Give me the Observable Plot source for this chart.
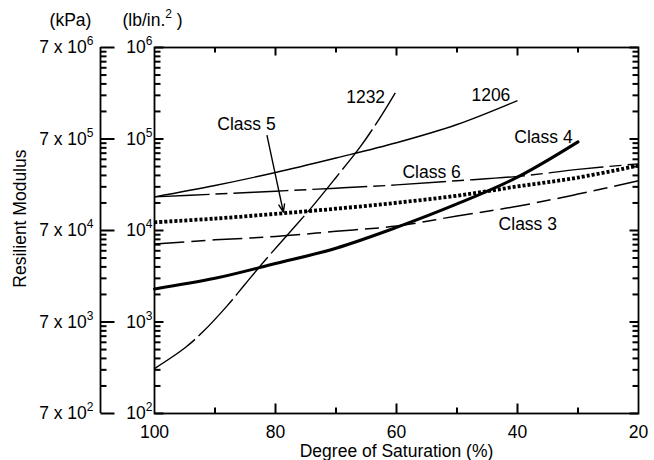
<!DOCTYPE html>
<html><head><meta charset="utf-8">
<script src="https://cdn.jsdelivr.net/npm/d3@7"></script>
<script src="https://cdn.jsdelivr.net/npm/@observablehq/plot@0.6"></script>
<style>body{margin:0;background:#fff;}</style>
</head><body><div id="chart"></div>
<script>
// ---- data ----
const sat = [100, 90, 80, 70, 60, 50, 40, 30, 20];
const class3 = [7100, 7900, 8600, 9800, 11200, 14400, 18400, 25000, 35000];
const class5 = [12300, 13500, 15200, 17300, 20100, 24000, 30300, 37900, 51300];
const class6 = [23300, 25000, 26900, 29000, 31500, 35000, 39000, 46500, 53500];
const sat4 = [100, 90, 80, 70, 60, 50, 40, 30];
const class4 = [2300, 3000, 4350, 6400, 10800, 19500, 38300, 93000];
const sat1206 = [100, 90, 80, 70, 60, 50, 40];
const m1206 = [23300, 31000, 43000, 62000, 91000, 144000, 263000];
const sat1232 = [100, 95, 92, 88, 85, 82, 78, 74, 70, 66, 63, 60.2];
const m1232 = [310, 520, 780, 1500, 2600, 4500, 9000, 18000, 38000, 82000, 160000, 320000];

const xTickLabels = [100, 80, 60, 40, 20];
const xMajorTicks = [80, 60, 40];
const xMinorTicks = [90, 70, 50, 30];
const yMajor = [1e2, 1e3, 1e4, 1e5, 1e6];
const yMinor = [2,3,4,5,6,7,8,9].flatMap(m => [1e2, 1e3, 1e4, 1e5].map(p => m * p));
const psiLabels = ["10^2", "10^3", "10^4", "10^5", "10^6"];
const kpaLabels = ["7 x 10^2", "7 x 10^3", "7 x 10^4", "7 x 10^5", "7 x 10^6"];

const noteText = ["1232", "1206", "Class 5", "Class 4", "Class 6", "Class 3"];
const noteX = [65.1, 44.4, 84.8, 35.7, 54.2, 38.3];
const noteY = [286000, 301000, 144000, 104000, 43400, 11800];
const arrowX = [81.4, 78.7];
const arrowY = [109000, 15850];

// ---- layout ----
const WIDTH = 654, HEIGHT = 460, ML = 154, MR = 16, MT = 47, MB = 47;
const FW = WIDTH - ML - MR, FH = HEIGHT - MT - MB;
const FS = 17.5;
const X0 = 100, X1 = 20, Y0 = 1e2, Y1 = 1e6;
const ux = px => px * (X0 - X1) / FW;
const fy = px => Math.pow(10, px * Math.log10(Y1 / Y0) / FH);

const rows = (xs, ys) => xs.map((x, i) => ({x, y: ys[i]}));
const tickRows = (vals, a, b) => vals.map(v => ({v, a, b}));
const lineOpts = {x: "x", y: "y", stroke: "black", curve: "catmull-rom", strokeLinecap: "butt"};
// ticks as horizontal / vertical links between two data points
const hTicks = (vals, xa, xb, extra = {}) => Plot.link(tickRows(vals, xa, xb), {x1: "a", x2: "b", y1: "v", y2: "v", stroke: "black", strokeWidth: 2, ...extra});
const vTicks = (vals, ya, yb) => Plot.link(tickRows(vals, ya, yb), {x1: "v", x2: "v", y1: "a", y2: "b", stroke: "black", strokeWidth: 2});

const chart = Plot.plot({
  width: WIDTH, height: HEIGHT,
  marginLeft: ML, marginRight: MR, marginTop: MT, marginBottom: MB,
  style: {fontFamily: "Liberation Sans, Arial, Helvetica, sans-serif", fontSize: FS + "px", background: "#fff", color: "#000", overflow: "visible"},
  x: {domain: [X0, X1], label: null},
  y: {type: "log", domain: [Y0, Y1], label: null},
  marks: [
    Plot.line(rows(sat1206, m1206), {...lineOpts, strokeWidth: 1.4}),
    Plot.line(rows(sat1232, m1232), {...lineOpts, strokeWidth: 1.4, strokeDasharray: "50,5"}),
    Plot.line(rows(sat, class6), {...lineOpts, strokeWidth: 1.4, strokeDasharray: "55,6,12,6"}),
    Plot.line(rows(sat, class3), {...lineOpts, strokeWidth: 1.5, strokeDasharray: "30,7,14,7"}),
    Plot.line(rows(sat, class5), {...lineOpts, strokeWidth: 3.8, strokeDasharray: "3,2"}),
    Plot.line(rows(sat4, class4), {...lineOpts, strokeWidth: 3, strokeLinecap: "round"}),
    Plot.text(noteText, {x: (d, i) => noteX[i], y: (d, i) => noteY[i], text: d => d, fontSize: FS, textAnchor: "middle", lineAnchor: "middle", fill: "black"}),
    Plot.arrow([0], {x1: () => arrowX[0], y1: () => arrowY[0], x2: () => arrowX[1], y2: () => arrowY[1], stroke: "black", strokeWidth: 1.4, headLength: 9, headAngle: 40}),
    Plot.frame({stroke: "black", strokeWidth: 1.8}),
    // ticks: left, right, bottom, top
    hTicks(yMinor, X0, X0 - ux(6)), hTicks(yMajor, X0, X0 - ux(9)),
    hTicks(yMinor, X1, X1 + ux(6)), hTicks(yMajor, X1, X1 + ux(9)),
    vTicks(xMinorTicks, Y0, Y0 * fy(6)), vTicks(xMajorTicks, Y0, Y0 * fy(10)),
    vTicks(xMinorTicks, Y1, Y1 / fy(5)), vTicks(xMajorTicks, Y1, Y1 / fy(8)),
    // outer kPa axis
    Plot.ruleX([X0], {y1: Y0, y2: Y1, dx: -54, stroke: "black", strokeWidth: 1.8}),
    hTicks(yMinor, X0, X0 - ux(6), {dx: -54}),
    hTicks(yMajor, X0, X0 - ux(14), {dx: -54}),
    Plot.axisX(xTickLabels, {tickSize: 0, tickPadding: 12, fontSize: FS, label: null, tickFormat: d => String(d)}),
    Plot.axisY(yMajor, {tickSize: 0, tickPadding: 2, fontSize: FS, label: null, tickFormat: d => psiLabels[yMajor.indexOf(d)]}),
    Plot.axisY(yMajor, {tickSize: 0, tickPadding: 61, fontSize: FS, label: null, tickFormat: d => kpaLabels[yMajor.indexOf(d)]}),
    Plot.text(["Degree of Saturation (%)"], {frameAnchor: "bottom", dy: 38, fontSize: FS, lineAnchor: "middle", fill: "black"}),
    Plot.text(["Resilient Modulus"], {x: () => X0, y: () => 13500, dx: -134, rotate: -90, fontSize: FS, textAnchor: "middle", lineAnchor: "middle", fill: "black"}),
    Plot.text(["(kPa)"], {frameAnchor: "top-left", dx: -84, dy: -27, fontSize: FS, textAnchor: "middle", lineAnchor: "middle", fill: "black"}),
    Plot.text(["(lb/in.^2~ )"], {frameAnchor: "top-left", dx: -32, dy: -27, fontSize: FS, textAnchor: "start", lineAnchor: "middle", fill: "black"})
  ]
});

const NS = "http://www.w3.org/2000/svg";
chart.querySelectorAll("text").forEach(t => {
  const s = t.textContent;
  if (!s.includes("^")) return;
  const [base, r] = s.split("^");
  const [sup, rest] = r.split("~");
  t.textContent = base;
  const ts = document.createElementNS(NS, "tspan");
  ts.setAttribute("dy", "-8"); ts.setAttribute("font-size", "12");
  ts.textContent = sup; t.appendChild(ts);
  if (rest !== undefined) {
    const t2 = document.createElementNS(NS, "tspan");
    t2.setAttribute("dy", "8"); t2.setAttribute("font-size", String(FS));
    t2.textContent = rest; t.appendChild(t2);
  }
});
document.getElementById("chart").appendChild(chart);
</script>
</body></html>
